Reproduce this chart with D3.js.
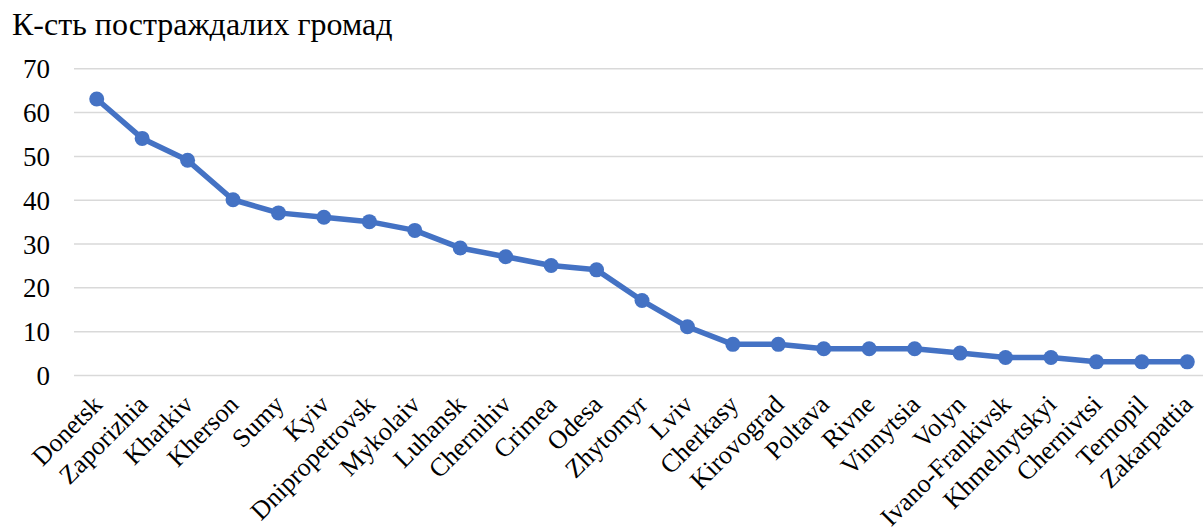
<!DOCTYPE html>
<html>
<head>
<meta charset="utf-8">
<script src="https://cdn.jsdelivr.net/npm/d3@7"></script>
<style>
  body { margin: 0; background: #fff; }
  svg { display: block; font-family: "Liberation Serif", "Times New Roman", serif; }
</style>
</head>
<body>
<div id="container"></div>
<script>
const regions = ['Donetsk', 'Zaporizhia', 'Kharkiv', 'Kherson', 'Sumy', 'Kyiv', 'Dnipropetrovsk', 'Mykolaiv',
  'Luhansk', 'Chernihiv', 'Crimea', 'Odesa', 'Zhytomyr', 'Lviv', 'Cherkasy', 'Kirovograd', 'Poltava', 'Rivne',
  'Vinnytsia', 'Volyn', 'Ivano-Frankivsk', 'Khmelnytskyi', 'Chernivtsi', 'Ternopil', 'Zakarpattia']
const counts = [63, 54, 49, 40, 37, 36, 35, 33, 29, 27, 25, 24, 17, 11, 7, 7, 6, 6, 6, 5, 4, 4, 3, 3, 3]
const yTicks = [0, 10, 20, 30, 40, 50, 60, 70]
const title = 'К-сть постраждалих громад'

const w = 1203
const h = 531
const plotLeft = 74
const plotRight = 1210
const plotTop = 68.3
const plotBottom = 375
const serif = '"Liberation Serif", "Times New Roman", serif'

const data = regions.map((r, i) => ({ region: r, value: counts[i] }))

const svg = d3.select('#container')
  .append('svg')
  .attr('width', w)
  .attr('height', h)

const scaleX = d3.scaleBand(regions, [plotLeft, plotRight])
const scaleY = d3.scaleLinear([0, 70], [plotBottom, plotTop])

// title
svg.append('text')
  .attr('x', 12)
  .attr('y', 35)
  .attr('font-size', 32)
  .attr('font-family', serif)
  .attr('fill', '#000')
  .text(title)

// gridlines + y labels
const axisY = d3.axisLeft(scaleY)
  .tickValues(yTicks)
  .tickSize(-(plotRight - plotLeft))
  .tickPadding(24)

svg.append('g')
  .attr('transform', `translate(${plotLeft},0)`)
  .call(axisY)
  .call(g => g.select('.domain').remove())
  .call(g => g.selectAll('line').attr('stroke', '#d9d9d9').attr('stroke-width', 1.5))
  .call(g => g.selectAll('text')
    .attr('font-size', 27)
    .attr('font-family', serif)
    .attr('fill', '#000')
    .attr('dy', '0.35em'))

// x labels
const axisX = d3.axisBottom(scaleX).tickSize(0)

svg.append('g')
  .attr('transform', `translate(0,${plotBottom})`)
  .call(axisX)
  .call(g => g.select('.domain').remove())
  .call(g => g.selectAll('text')
    .attr('font-size', 26)
    .attr('font-family', serif)
    .attr('fill', '#000')
    .attr('text-anchor', 'end')
    .attr('dy', 0)
    .attr('y', 0)
    .attr('transform', 'translate(7,31) rotate(-45)'))

const cx = d => scaleX(d.region) + scaleX.bandwidth() / 2

const line = d3.line()
  .x(cx)
  .y(d => scaleY(d.value))

svg.append('path')
  .datum(data)
  .attr('d', line)
  .attr('fill', 'none')
  .attr('stroke', '#4472c4')
  .attr('stroke-width', 5.5)
  .attr('stroke-linejoin', 'round')

svg.selectAll('circle')
  .data(data)
  .enter()
  .append('circle')
  .attr('cx', cx)
  .attr('cy', d => scaleY(d.value))
  .attr('r', 7.5)
  .attr('fill', '#4472c4')
</script>
</body>
</html>
